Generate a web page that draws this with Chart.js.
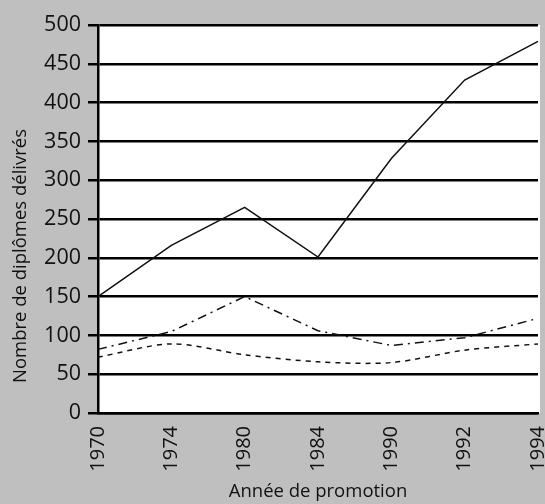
<!DOCTYPE html>
<html>
<head>
<meta charset="utf-8">
<script src="https://cdn.jsdelivr.net/npm/chart.js@4/dist/chart.umd.min.js"></script>
<style>
html,body{margin:0;padding:0;background:#bfbfbf;}
#wrap{width:545px;height:504px;position:relative;}
</style>
</head>
<body>
<div id="wrap"><canvas id="c" width="545" height="504"></canvas></div>
<script>
const years = ["1970", "1974", "1980", "1984", "1990", "1992", "1994"];
const serieTotal = [150, 216, 265, 201, 328, 429, 479];
const serieTiret = [82, 105, 150, 106, 87, 97, 122];
const seriePointille = [72, 89, 75, 66, 65, 81, 89];
const yTicks = [0, 50, 100, 150, 200, 250, 300, 350, 400, 450, 500];
const yTitle = "Nombre de diplômes délivrés";
const xTitle = "Année de promotion";

const FONT = "'Open Sans', 'DejaVu Sans', sans-serif";

const bgPlugin = {
  id: 'bg',
  beforeDraw(chart) {
    const {ctx, chartArea: a} = chart;
    ctx.save();
    ctx.fillStyle = '#bfbfbf';
    ctx.fillRect(0, 0, chart.width, chart.height);
    ctx.fillStyle = '#ffffff';
    ctx.fillRect(a.left, a.top, a.right - a.left + 2, a.bottom - a.top);
    ctx.restore();
  },
  afterDraw(chart) {
    const {ctx} = chart;
    ctx.save();
    ctx.translate(21, 256);
    ctx.rotate(-Math.PI / 2);
    ctx.fillStyle = '#111';
    ctx.font = "18.5px " + FONT;
    ctx.textAlign = 'center';
    ctx.textBaseline = 'middle';
    ctx.fillText(yTitle, 0, 0);
    ctx.restore();
  }
};

new Chart(document.getElementById('c'), {
  type: 'line',
  data: {
    labels: years,
    datasets: [
      { data: serieTotal, borderColor: '#111', borderWidth: 1.5, pointRadius: 0, fill: false, tension: 0 },
      { data: serieTiret, borderColor: '#111', borderWidth: 1.5, pointRadius: 0, fill: false, borderDash: [9, 5, 2, 5], tension: 0 },
      { data: seriePointille, borderColor: '#111', borderWidth: 1.5, pointRadius: 0, fill: false, borderDash: [5, 5], tension: 0.3 }
    ]
  },
  plugins: [bgPlugin],
  options: {
    responsive: false,
    animation: false,
    layout: { padding: { top: 25, right: 7, bottom: 0, left: 0 } },
    plugins: { legend: { display: false }, tooltip: { enabled: false } },
    scales: {
      x: {
        offset: false,
        afterFit(scale) { scale.height = 91; scale.paddingRight = 0; scale.paddingLeft = 0; },
        grid: { display: true, drawOnChartArea: false, drawTicks: false, color: 'rgba(0,0,0,0)' },
        border: { display: true, color: '#000', width: 2.5 },
        ticks: { color: '#111', font: { family: FONT, size: 20 }, minRotation: 90, maxRotation: 90, padding: 13, autoSkip: false },
        title: { display: true, text: xTitle, color: '#111', font: { family: FONT, size: 18.5 }, padding: { top: 0, bottom: 1 } }
      },
      y: {
        min: 0, max: 500,
        afterBuildTicks(scale) { scale.ticks = yTicks.map(v => ({ value: v })); },
        afterFit(scale) { scale.width = 98; },
        grid: { color: '#000', lineWidth: 2.5, tickLength: 10 },
        border: { display: true, color: '#000', width: 2.5 },
        ticks: { color: '#111', font: { family: FONT, size: 21.5 }, padding: 7 },
        title: { display: false }
      }
    }
  }
});
</script>
</body>
</html>
